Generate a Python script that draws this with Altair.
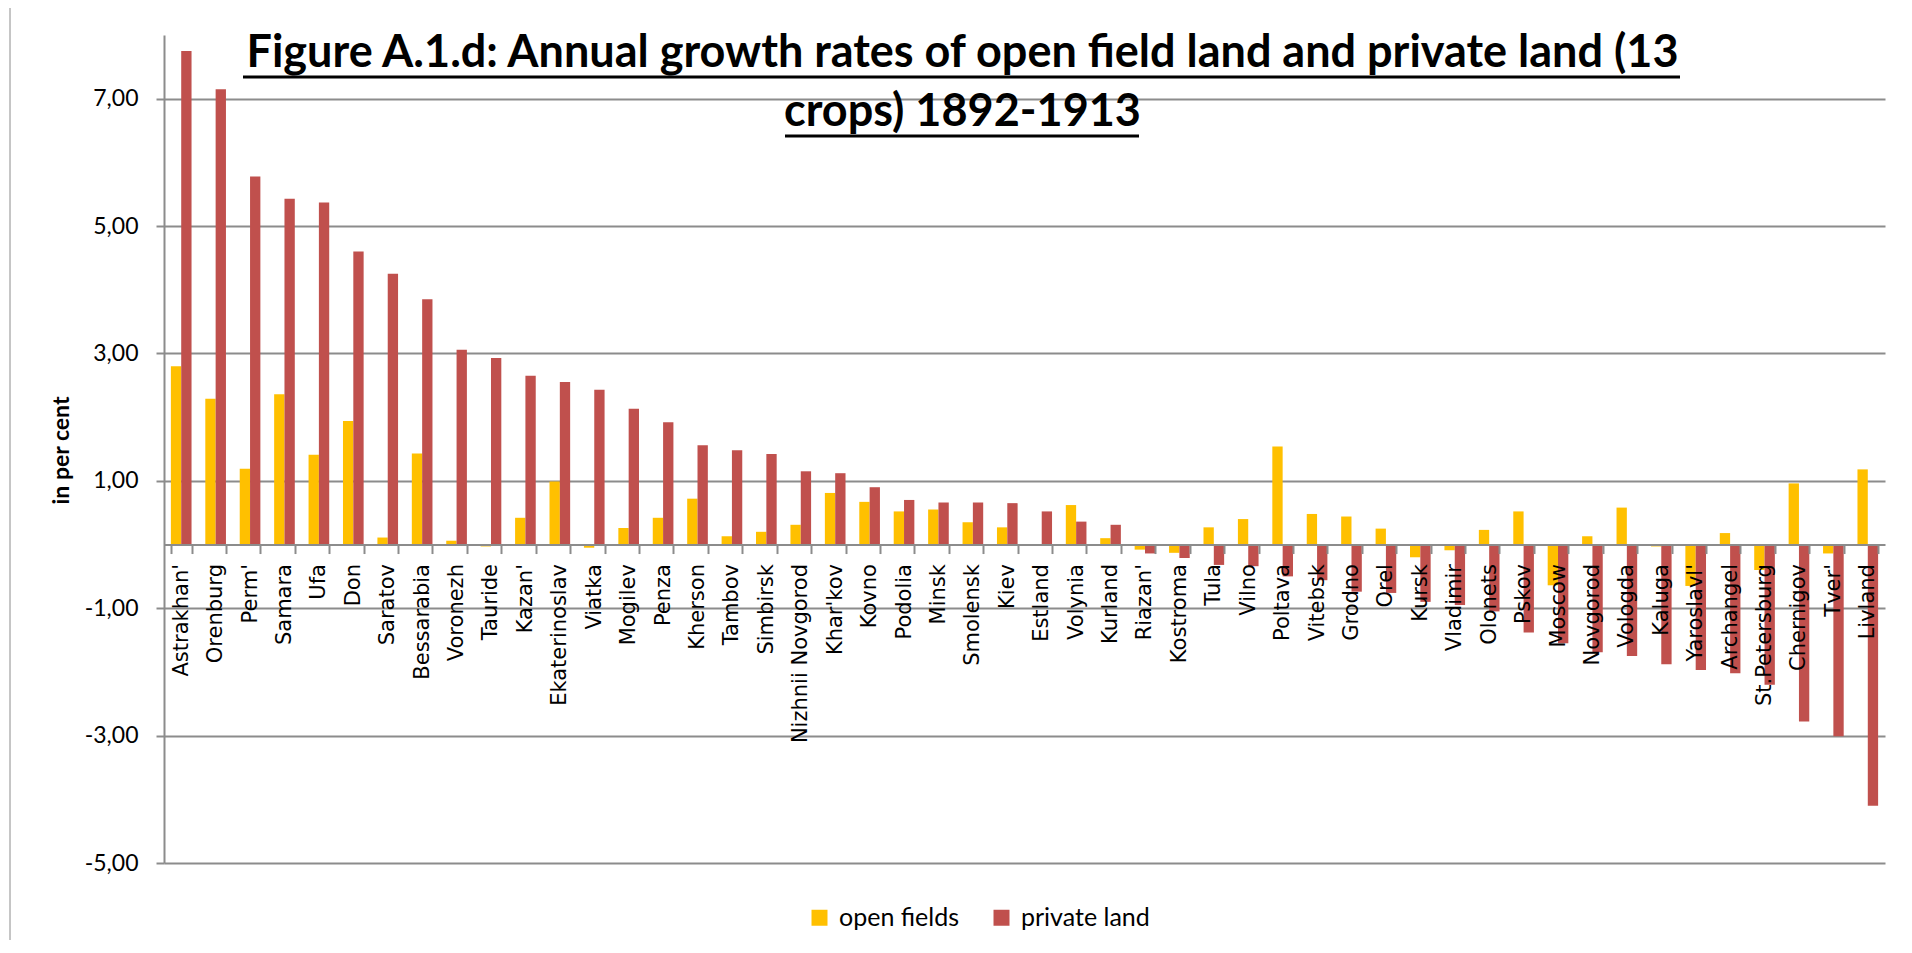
import altair as alt
import pandas as pd

# ---------------- data ----------------
provinces = [
    "Astrakhan'", "Orenburg", "Perm'", "Samara", "Ufa", "Don", "Saratov",
    "Bessarabia", "Voronezh", "Tauride", "Kazan'", "Ekaterinoslav", "Viatka",
    "Mogilev", "Penza", "Kherson", "Tambov", "Simbirsk", "Nizhnii Novgorod",
    "Khar'kov", "Kovno", "Podolia", "Minsk", "Smolensk", "Kiev", "Estland",
    "Volynia", "Kurland", "Riazan'", "Kostroma", "Tula", "Vilno", "Poltava",
    "Vitebsk", "Grodno", "Orel", "Kursk", "Vladimir", "Olonets", "Pskov",
    "Moscow", "Novgorod", "Vologda", "Kaluga", "Yaroslavl'", "Archangel",
    "St.Petersburg", "Chernigov", "Tver'", "Livland",
]
open_fields = [
    2.80, 2.29, 1.19, 2.36, 1.41, 1.94, 0.11,
    1.43, 0.06, -0.03, 0.42, 0.99, -0.05,
    0.26, 0.42, 0.72, 0.13, 0.20, 0.31,
    0.81, 0.67, 0.52, 0.55, 0.35, 0.27, -0.02,
    0.62, 0.10, -0.08, -0.13, 0.27, 0.40, 1.54,
    0.48, 0.44, 0.25, -0.20, -0.09, 0.23, 0.52,
    -0.64, 0.13, 0.58, -0.03, -0.65, 0.18,
    -0.40, 0.96, -0.14, 1.18,
]
private_land = [
    7.75, 7.15, 5.78, 5.43, 5.37, 4.60, 4.25,
    3.85, 3.06, 2.93, 2.65, 2.55, 2.43,
    2.13, 1.92, 1.56, 1.48, 1.42, 1.15,
    1.12, 0.90, 0.70, 0.66, 0.66, 0.65, 0.52,
    0.36, 0.31, -0.14, -0.21, -0.32, -0.34, -0.50,
    -0.56, -0.74, -0.76, -0.90, -0.95, -1.05, -1.38,
    -1.55, -1.69, -1.75, -1.88, -1.97, -2.02,
    -2.20, -2.78, -3.01, -4.10,
]
series_names = ["open fields", "private land"]
series_colors = ["#FFC000", "#C0504D"]
y_ticks = [-5, -3, -1, 1, 3, 5, 7]
y_domain = [-5, 8]
title_lines = [
    "Figure A.1.d: Annual growth rates of open field land and private land (13",
    "crops) 1892-1913",
]
y_title = "in per cent"

rows = []
for i, p in enumerate(provinces):
    rows.append({"province": p, "series": series_names[0], "value": open_fields[i]})
    rows.append({"province": p, "series": series_names[1], "value": private_land[i]})
df = pd.DataFrame(rows)

# ---------------- layout ----------------
W, H = 1721, 828
GRID = "#8c8c8c"
zero_offset = -H * (0 - y_domain[0]) / (y_domain[1] - y_domain[0])

bars = alt.Chart(df).mark_bar().encode(
    x=alt.X(
        "province:N",
        sort=provinces,
        scale=alt.Scale(paddingInner=0.4, paddingOuter=0.2),
        axis=alt.Axis(
            title=None, labelAngle=-90, labelFont="DejaVu Sans", labelFontSize=21,
            labelColor="black", labelPadding=10, labelOverlap=False, labelLimit=400,
            tickSize=9, tickColor=GRID, tickWidth=2, tickBand="extent",
            domainColor=GRID, domainWidth=2, offset=zero_offset, zindex=1, grid=False,
        ),
    ),
    xOffset=alt.XOffset("series:N", sort=series_names,
                        scale=alt.Scale(paddingInner=0, paddingOuter=0)),
    y=alt.Y(
        "value:Q",
        scale=alt.Scale(domain=y_domain, nice=False),
        axis=alt.Axis(
            values=y_ticks, title=y_title,
            titleFont="Lato", titleFontWeight="bold", titleFontSize=23, titleColor="black",
            titleAngle=270, titleX=-103, titleY=415, titleAlign="center", titleBaseline="middle",
            labelExpr="(datum.value < 0 ? '-' : '') + replace(format(abs(datum.value), '.2f'), '.', ',')",
            labelFont="Lato", labelFontSize=23, labelColor="black", labelPadding=18,
            tickSize=8, tickColor=GRID, tickWidth=2,
            domainColor=GRID, domainWidth=2,
            grid=True, gridColor=GRID, gridWidth=2,
        ),
    ),
    color=alt.Color(
        "series:N", sort=series_names,
        scale=alt.Scale(domain=series_names, range=series_colors),
        legend=alt.Legend(
            title=None, orient="none", legendX=643, legendY=870, direction="horizontal",
            symbolType="square", symbolSize=256, symbolStrokeWidth=0,
            labelFont="Lato", labelFontSize=25, labelColor="black", labelOffset=7,
            columnPadding=30, padding=0,
        ),
    ),
)

one = pd.DataFrame({"k": [0]})
frame = alt.Chart(one).mark_rect(fillOpacity=0, stroke="#8c8c8c", strokeWidth=1).encode(
    x=alt.value(-154), x2=alt.value(1760), y=alt.value(-29), y2=alt.value(1000)
)
underline = alt.Chart(one).mark_rule(color="black", strokeWidth=3)
ul1 = underline.encode(x=alt.value(79), x2=alt.value(1516), y=alt.value(42))
ul2 = underline.encode(x=alt.value(621), x2=alt.value(975), y=alt.value(101))

chart = alt.layer(frame, bars, ul1, ul2).properties(
    width=W,
    height=H,
    autosize=alt.AutoSizeParams(type="none"),
    padding={"left": 156, "top": 27, "right": 19, "bottom": 77},
    title=alt.TitleParams(
        text=title_lines, font="Lato", fontSize=45, fontWeight="bold", color="black",
        anchor="middle", frame="group", orient="top", dx=-62, offset=-165,
        baseline="alphabetic", lineHeight=59,
    ),
).configure_view(stroke=None)

chart.save("out.html", embed_options={"renderer": "svg", "actions": False})
